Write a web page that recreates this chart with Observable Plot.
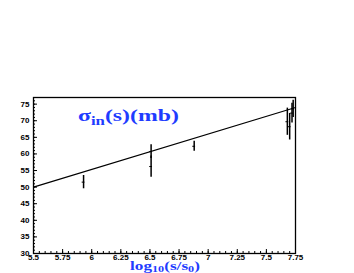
<!DOCTYPE html>
<html><head><meta charset="utf-8">
<script src="https://cdn.jsdelivr.net/npm/d3@7"></script>
<script src="https://cdn.jsdelivr.net/npm/@observablehq/plot@0.6"></script>
<style>body{margin:0;background:#fff}</style>
</head><body><div id="chart"></div>
<script>
const logS = [5.93, 6.51, 6.51, 6.88, 7.68, 7.70, 7.72, 7.73];
const sigma = [51.5, 60.7, 56.2, 62.3, 69.7, 68.2, 72.3, 73.6];
const sigmaErr = [2.0, 2.1, 3.2, 1.5, 4.1, 4.0, 3.0, 2.6];
const fitX = [5.5, 7.75];
const fitY = [50.0, 74.0];
const xTicks = [5.5, 5.75, 6, 6.25, 6.5, 6.75, 7, 7.25, 7.5, 7.75];
const yTicks = [30, 35, 40, 45, 50, 55, 60, 65, 70, 75];
const xDomain = [5.5, 7.75];
const yDomain = [30, 77];

const pts = logS.map((x, i) => ({x, y: sigma[i], lo: sigma[i] - sigmaErr[i], hi: sigma[i] + sigmaErr[i]}));
const fit = fitX.map((x, i) => ({x, y: fitY[i]}));
const xMinor = d3.range(5.5, 7.7501, 0.05);
const yMinor = d3.range(30, 77.01, 1);

const W = 354, H = 273, mL = 33, mR = 59, mT = 97, mB = 20;
const fw = W - mL - mR, fh = H - mT - mB;

const chart = Plot.plot({
  width: W, height: H,
  marginLeft: mL, marginRight: mR, marginTop: mT, marginBottom: mB,
  x: {type: "linear", domain: xDomain},
  y: {type: "linear", domain: yDomain},
  style: {fontFamily: "Liberation Sans", fontWeight: "bold", fontSize: "8px", color: "black", background: "white"},
  marks: [
    Plot.axisX({ticks: xTicks, tickSize: 0, tickPadding: 1, tickFormat: d => String(d), label: null, fontWeight: "bold"}),
    Plot.axisY({ticks: yTicks, tickSize: 0, tickPadding: 4, tickFormat: d => String(d), label: null, fontWeight: "bold"}),
    Plot.tickX(xMinor, {x: d => d, insetTop: fh - 2, stroke: "black", strokeWidth: 1}),
    Plot.tickX(xTicks, {x: d => d, insetTop: fh - 4, stroke: "black", strokeWidth: 1}),
    Plot.tickY(yMinor, {y: d => d, insetRight: fw - 2, stroke: "black", strokeWidth: 1}),
    Plot.tickY(yTicks, {y: d => d, insetRight: fw - 4, stroke: "black", strokeWidth: 1}),
    Plot.frame({stroke: "black", strokeWidth: 1.3}),
    Plot.line(fit, {x: "x", y: "y", stroke: "black", strokeWidth: 1.2}),
    Plot.ruleX(pts, {x: "x", y1: "lo", y2: "hi", stroke: "black", strokeWidth: 1.5, clip: true}),
    Plot.ruleY(pts, {y: "y", x1: d => d.x - 0.012, x2: d => d.x + 0.012, stroke: "black", strokeWidth: 1, clip: true})
  ]
});
document.getElementById("chart").appendChild(chart);

const svg = d3.select(chart);
const blue = "#1e3cff";
function stretched(x, y, target) {
  const g = svg.append("g");
  const t = g.append("text").attr("x", 0).attr("y", 0).attr("text-anchor", "start").attr("fill", blue)
    .attr("font-family", "Liberation Serif");
  return {g, t, fit() {
    const w = t.node().getComputedTextLength() || target;
    g.attr("transform", `translate(${x},${y}) scale(${target / w},1)`);
  }};
}
const T = stretched(78, 121, 101);
T.t.attr("font-weight", "bold").attr("font-size", 17);
T.t.append("tspan").text("σ");
T.t.append("tspan").attr("font-size", 12).attr("dy", 4).text("in");
T.t.append("tspan").attr("dy", -4).text("(s)(mb)");
T.fit();

const X = stretched(130, 269.5, 70);
X.t.attr("font-size", 12);
X.t.append("tspan").text("log");
X.t.append("tspan").attr("font-size", 8.5).attr("dy", 2.5).text("10");
X.t.append("tspan").attr("dy", -2.5).text("(s/s");
X.t.append("tspan").attr("font-size", 8.5).attr("dy", 2.5).text("0");
X.t.append("tspan").attr("dy", -2.5).text(")");
X.fit();
</script></body></html>
